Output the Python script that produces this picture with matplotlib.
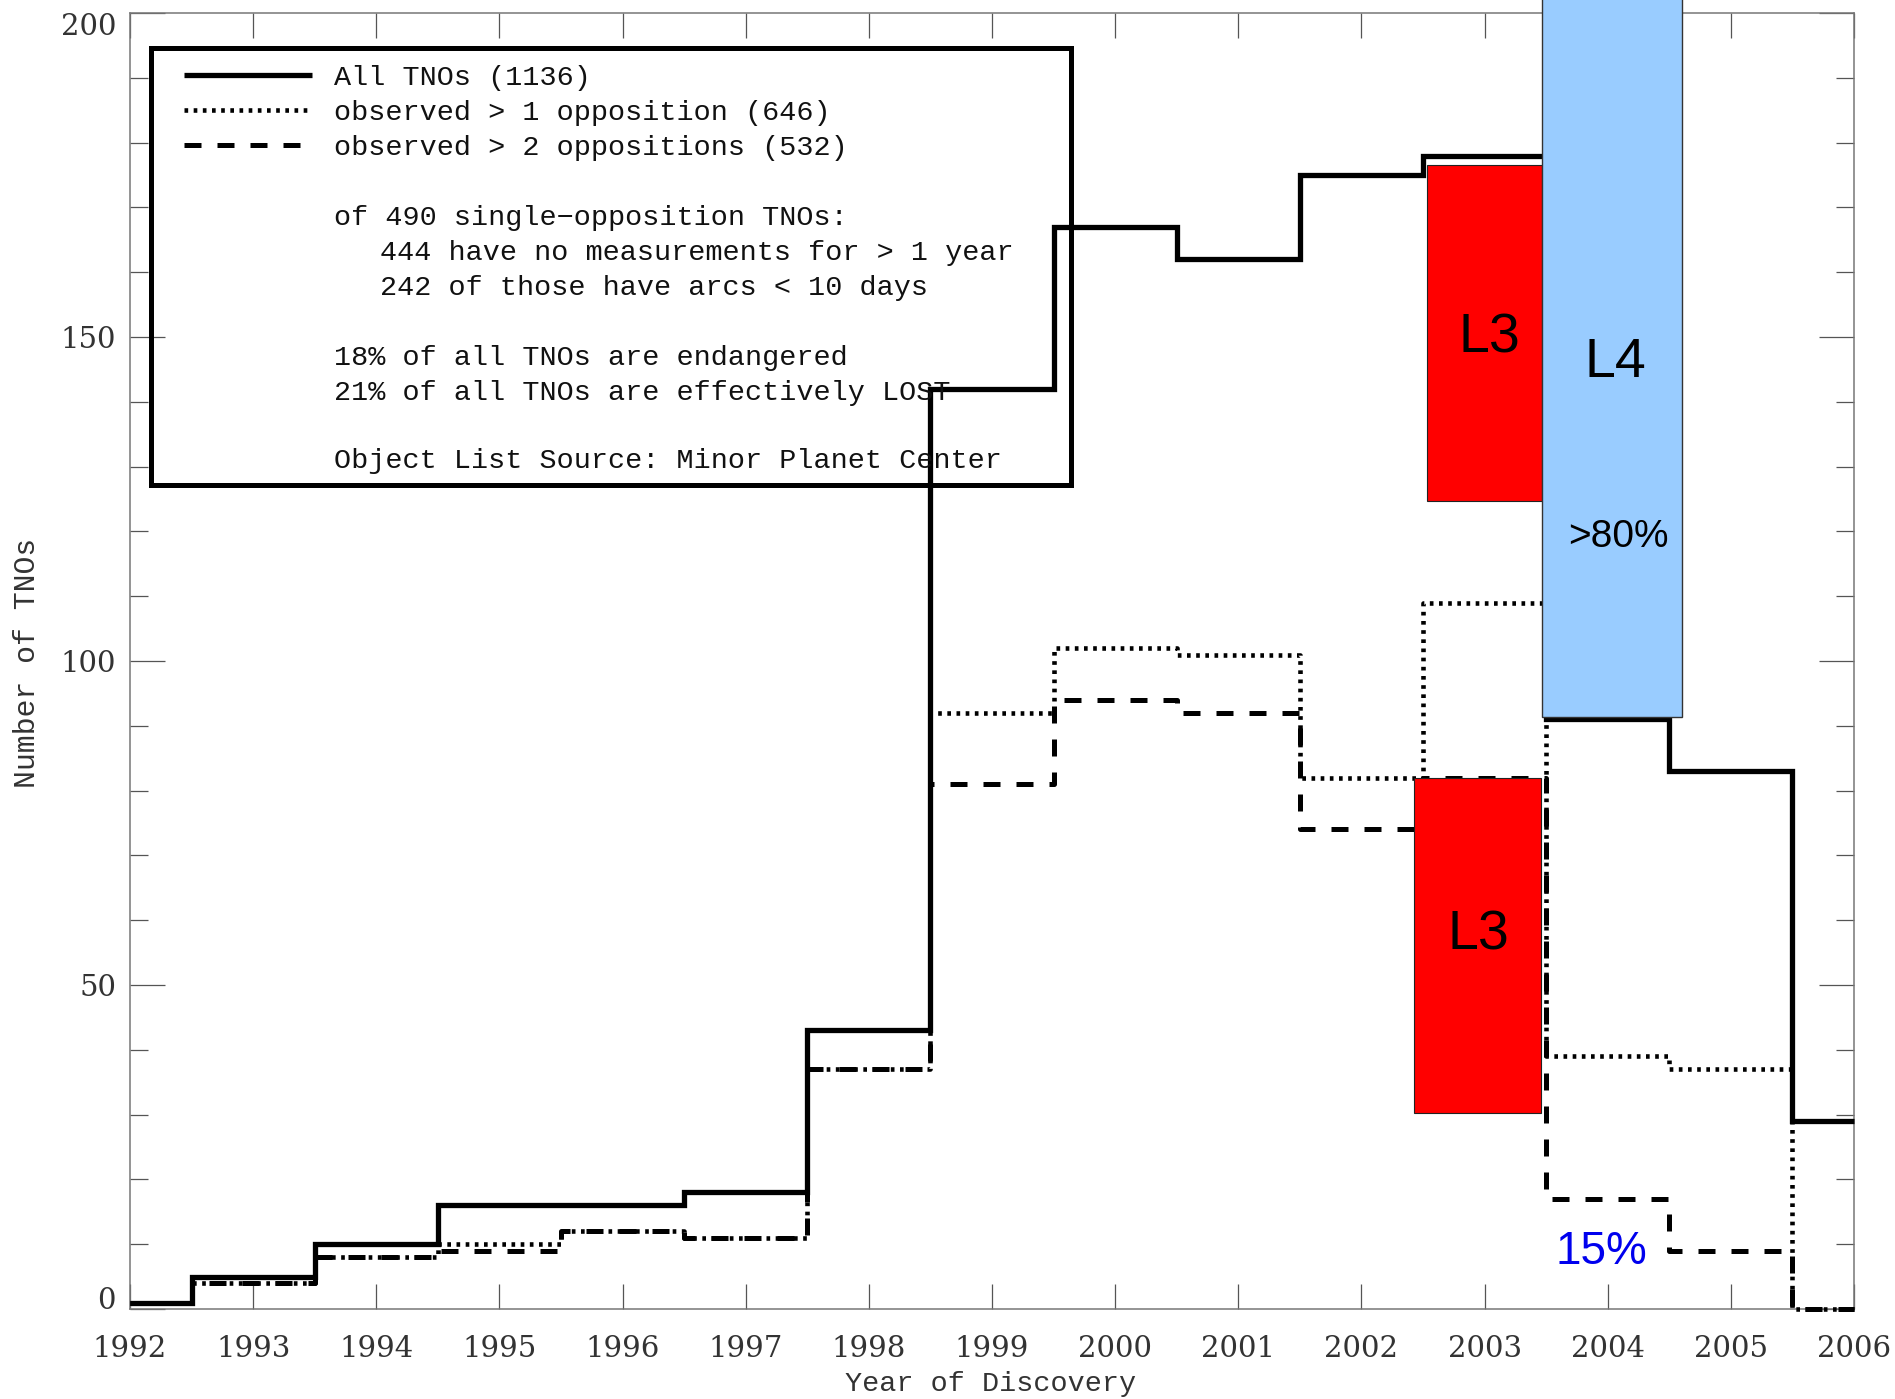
import numpy as np
import matplotlib
matplotlib.use("Agg")
import matplotlib.pyplot as plt
from matplotlib.patches import Rectangle

# TNO counts per discovery year (bins centred on each year)
years = list(range(1992, 2007))
all_tnos = [1, 5, 10, 16, 16, 18, 43, 142, 167, 162, 175, 178, 91, 83, 29]
multi_opp = [1, 4, 8, 10, 12, 11, 37, 92, 102, 101, 82, 109, 39, 37, 0]
three_opp = [1, 4, 8, 9, 12, 11, 37, 81, 94, 92, 74, 82, 17, 9, 0]

legend_labels = ["All TNOs (1136)",
                 "observed > 1 opposition (646)",
                 "observed > 2 oppositions (532)"]
notes = ["of 490 single\u2212opposition TNOs:",
         "444 have no measurements for > 1 year",
         "242 of those have arcs < 10 days",
         "18% of all TNOs are endangered",
         "21% of all TNOs are effectively LOST",
         "Object List Source: Minor Planet Center"]
note_x = [1993.66, 1994.03, 1994.03, 1993.66, 1993.66, 1993.66]
note_y = [167.3, 161.9, 156.5, 145.7, 140.3, 129.8]

serif = "DejaVu Serif"
mono = ["Liberation Mono", "DejaVu Sans Mono"]
sans = "Liberation Sans"

fig = plt.figure(figsize=(18.95, 13.99), dpi=100)
ax = fig.add_axes([130 / 1895, 1 - 1309 / 1399, 1724 / 1895, 1296 / 1399])

solid_ls = "-"
dot_ls = (0, (0.8, 1.2))
dash_ls = (0, (3.4, 3.2))

ax.step(years, all_tnos, where="mid", color="black", lw=3.8, ls=solid_ls,
        clip_on=False, zorder=3, solid_joinstyle="miter",
        solid_capstyle="butt")
ax.step(years, multi_opp, where="mid", color="black", lw=3.3, ls=dot_ls,
        clip_on=False, zorder=3, dash_capstyle="butt")
ax.step(years, three_opp, where="mid", color="black", lw=3.6, ls=dash_ls,
        clip_on=False, zorder=3, dash_capstyle="butt")

ax.set_xlim(1992, 2006)
ax.set_ylim(0, 200)

# legend box drawn by hand, like the IDL original
ax.add_patch(Rectangle((1992.17, 127.2), 7.47, 67.4, fill=False, ec="black",
                       lw=3.6, zorder=4, joinstyle="miter"))
sample_y = [190.4, 185.0, 179.6]
for ls, yy, lw in zip([solid_ls, dot_ls, dash_ls], sample_y, [3.8, 3.3, 3.6]):
    ax.plot([1992.44, 1993.48], [yy, yy], color="black", ls=ls, lw=lw,
            dash_capstyle="butt", solid_capstyle="butt", zorder=4)
for txt, yy in zip(legend_labels, [188.9, 183.5, 178.1]):
    ax.text(1993.66, yy, txt, family=mono, fontsize=20.5, va="baseline",
            color="#111111", zorder=4)
for txt, xx, yy in zip(notes, note_x, note_y):
    ax.text(xx, yy, txt, family=mono, fontsize=20.5, va="baseline",
            color="#111111", zorder=4)

# highlighted regions
ax.add_patch(Rectangle((2002.53, 124.7), 0.94, 51.8, fc="#ff0000",
                       ec="#222222", lw=0.8, zorder=5))
ax.add_patch(Rectangle((2002.43, 30.3), 1.03, 51.6, fc="#ff0000",
                       ec="#222222", lw=0.8, zorder=5))
ax.add_patch(Rectangle((2003.47, 91.4), 1.13, 115, fc="#99ccff",
                       ec="#333333", lw=1.0, zorder=5, clip_on=False))

ax.text(2003.04, 149.8, "L3", family=sans, fontsize=40, ha="center",
        va="center", zorder=6)
ax.text(2004.06, 146.0, "L4", family=sans, fontsize=40, ha="center",
        va="center", zorder=6)
ax.text(2002.95, 57.6, "L3", family=sans, fontsize=40, ha="center",
        va="center", zorder=6)
ax.text(2004.09, 119.1, ">80%", family=sans, fontsize=28, ha="center",
        va="center", zorder=6)
ax.text(2003.95, 8.8, "15%", family=sans, fontsize=33, ha="center",
        va="center", color="#0000ee", zorder=6)

# axes styling
for sp in ax.spines.values():
    sp.set_color("#777777")
    sp.set_linewidth(1.1)
ax.set_xticks(years)
ax.set_xticklabels([str(y) for y in years])
ax.set_yticks(np.arange(0, 201, 50))
ax.set_yticks(np.arange(0, 201, 10), minor=True)
ax.tick_params(axis="x", which="major", direction="in", top=True, bottom=True,
               length=18, width=0.9, color="#555555", pad=19,
               labelsize=21, labelcolor="#333333")
ax.tick_params(axis="y", which="major", direction="in", left=True, right=True,
               length=25, width=0.9, color="#555555", pad=10,
               labelsize=21, labelcolor="#333333")
ax.tick_params(axis="y", which="minor", direction="in", left=True, right=True,
               length=13, width=0.9, color="#555555")
for lab in ax.get_xticklabels() + ax.get_yticklabels():
    lab.set_family(serif)
ylabs = ax.get_yticklabels()
ylabs[0].set_va("baseline")
ylabs[-1].set_va("top")

fig.text(991 / 1895, 1 - 1384 / 1399, "Year of Discovery", family=mono,
         fontsize=20.5, ha="center", va="center", color="#333333")
fig.text(27 / 1895, 1 - 663 / 1399, "Number of TNOs", family=mono,
         fontsize=21.5, ha="center", va="center", rotation=90,
         color="#333333")

fig.savefig("out.png", dpi=100)
